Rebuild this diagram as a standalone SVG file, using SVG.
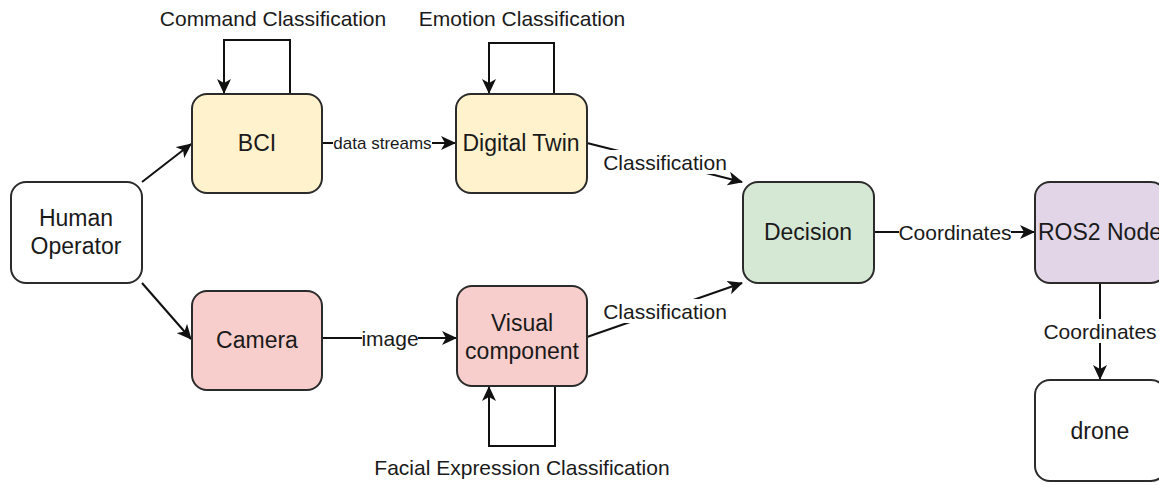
<svg xmlns="http://www.w3.org/2000/svg" width="1159" height="485" viewBox="0 0 1159 485">
  <style>
    .box { stroke: #2b2b2b; stroke-width: 2; }
    .t { font-family: "Liberation Sans", Arial, sans-serif; fill: #1a1a1a; text-anchor: middle; dominant-baseline: central; }
    .n { font-size: 23px; }
    .lbl { font-size: 21px; }
    .sm { font-size: 17px; }
    .edge { fill: none; stroke: #111; stroke-width: 2; }
    .bg { fill: #fff; }
  </style>
  <defs>
    <marker id="arrow" viewBox="0 0 15 14" refX="14" refY="7" markerWidth="15" markerHeight="14" markerUnits="userSpaceOnUse" orient="auto">
      <path d="M0,0 L15,7 L0,14 L4,7 Z" fill="#111"/>
    </marker>
  </defs>

  <g id="connectors">
    <line class="edge" x1="142" y1="182" x2="191" y2="144" marker-end="url(#arrow)"/>
    <line class="edge" x1="142" y1="283" x2="191" y2="339" marker-end="url(#arrow)"/>
    <path class="edge" d="M290,94 V40 H224 V93" marker-end="url(#arrow)"/>
    <path class="edge" d="M554,94 V43 H489 V93" marker-end="url(#arrow)"/>
    <path class="edge" d="M555,386 V446 H489 V387" marker-end="url(#arrow)"/>
    <line class="edge" x1="322" y1="143" x2="455" y2="143" marker-end="url(#arrow)"/>
    <rect class="bg" x="333" y="133" width="99" height="20"/>
    <text class="t sm" x="382.5" y="143">data streams</text>
    <line class="edge" x1="322" y1="338" x2="456" y2="338" marker-end="url(#arrow)"/>
    <rect class="bg" x="362" y="327" width="56" height="22"/>
    <text class="t lbl" x="390" y="338">image</text>
    <line class="edge" x1="587" y1="143" x2="742" y2="182" marker-end="url(#arrow)"/>
    <rect class="bg" x="603" y="150" width="124" height="24"/>
    <text class="t lbl" x="665" y="162">Classification</text>
    <line class="edge" x1="587" y1="337" x2="742" y2="283" marker-end="url(#arrow)"/>
    <rect class="bg" x="603" y="299" width="124" height="24"/>
    <text class="t lbl" x="665" y="311">Classification</text>
    <line class="edge" x1="874" y1="232" x2="1034" y2="232" marker-end="url(#arrow)"/>
    <rect class="bg" x="899" y="220" width="112" height="24"/>
    <text class="t lbl" x="955" y="232">Coordinates</text>
    <line class="edge" x1="1100" y1="283" x2="1100" y2="379" marker-end="url(#arrow)"/>
    <rect class="bg" x="1044" y="319" width="112" height="24"/>
    <text class="t lbl" x="1100" y="331">Coordinates</text>
  </g>

  <g id="loop-labels">
    <text class="t lbl" x="273" y="18">Command Classification</text>
    <text class="t lbl" x="522" y="18">Emotion Classification</text>
    <text class="t lbl" x="522" y="467">Facial Expression Classification</text>
  </g>

  <g id="human-operator">
    <rect class="box" x="11" y="182" width="131" height="101" rx="15" fill="#ffffff"/>
    <text class="t n" x="76" y="218">Human</text>
    <text class="t n" x="76" y="246">Operator</text>
  </g>
  <g id="bci">
    <rect class="box" x="192" y="94" width="130" height="99" rx="15" fill="#fff2cc"/>
    <text class="t n" x="257" y="143">BCI</text>
  </g>
  <g id="digital-twin">
    <rect class="box" x="456" y="94" width="131" height="99" rx="15" fill="#fff2cc"/>
    <text class="t n" x="521" y="143">Digital Twin</text>
  </g>
  <g id="camera">
    <rect class="box" x="192" y="291" width="130" height="99" rx="15" fill="#f8cecc"/>
    <text class="t n" x="257" y="340">Camera</text>
  </g>
  <g id="visual-component">
    <rect class="box" x="457" y="286" width="130" height="100" rx="15" fill="#f8cecc"/>
    <text class="t n" x="522" y="323">Visual</text>
    <text class="t n" x="522" y="351">component</text>
  </g>
  <g id="decision">
    <rect class="box" x="743" y="182" width="131" height="101" rx="15" fill="#d5e8d4"/>
    <text class="t n" x="808" y="232">Decision</text>
  </g>
  <g id="ros2-node">
    <rect class="box" x="1035" y="182" width="131" height="101" rx="15" fill="#e1d5e7"/>
    <text class="t n" x="1100" y="232">ROS2 Node</text>
  </g>
  <g id="drone">
    <rect class="box" x="1035" y="380" width="131" height="101" rx="15" fill="#ffffff"/>
    <text class="t n" x="1100" y="431">drone</text>
  </g>
</svg>
